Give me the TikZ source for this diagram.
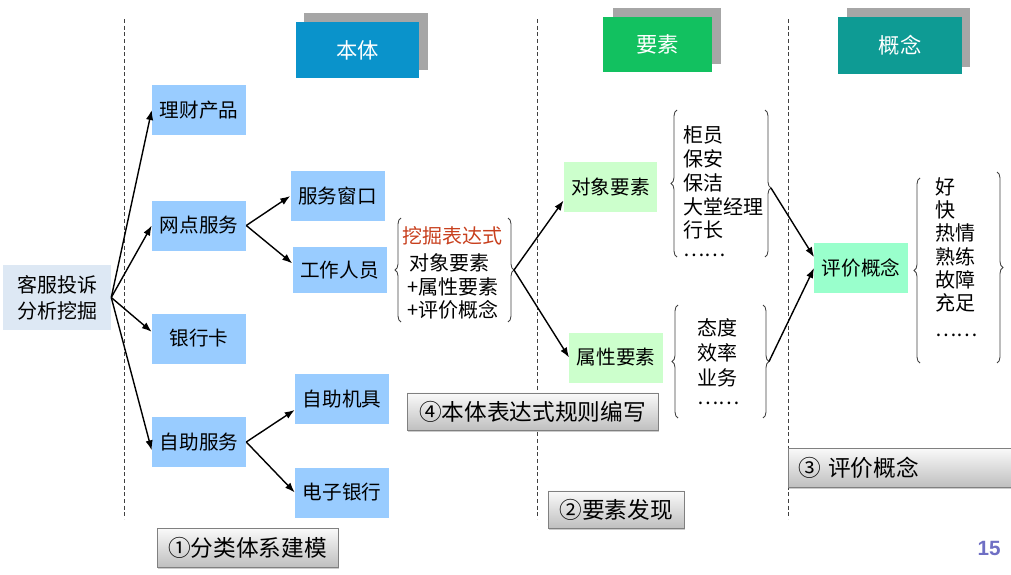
\documentclass[tikz,border=0pt]{standalone}
\usepackage{fontspec}
\setmainfont{Noto Sans CJK SC}
\newfontfamily\numfont{Liberation Sans}
\usetikzlibrary{arrows.meta,decorations.pathreplacing,shadows}

\definecolor{clsblue}{HTML}{99CCFF}
\definecolor{rootblue}{HTML}{DDE8F4}
\definecolor{hdrblue}{HTML}{0A93CB}
\definecolor{hdrgreen}{HTML}{12C160}
\definecolor{hdrteal}{HTML}{0E9B94}
\definecolor{hdrshade}{HTML}{A6A6A6}
\definecolor{objgreen}{HTML}{CCFFCC}
\definecolor{evalmint}{HTML}{99FFCC}
\definecolor{exprred}{HTML}{C8401E}
\definecolor{pagenum}{HTML}{6F6FC4}

\tikzset{
  root/.style={fill=rootblue, minimum width=81pt, minimum height=48.75pt, inner sep=0pt,
    align=center, font=\fontsize{15}{19.5}\selectfont},
  cls/.style={fill=clsblue, minimum width=70.5pt, minimum height=37.5pt, inner sep=0pt,
    font=\fontsize{14.7}{17}\selectfont},
  elem/.style={minimum width=70pt, minimum height=37.5pt, inner sep=0pt,
    font=\fontsize{14.7}{17}\selectfont},
  hdr/.style={text=white, inner sep=0pt, font=\fontsize{16}{18}\selectfont},
  item/.style={anchor=west, inner sep=0pt, font=\fontsize{15}{18}\selectfont},
  note/.style={draw=black!50, top color=black!2, bottom color=black!25, inner sep=0pt,
    minimum height=28pt, font=\fontsize{17}{19}\selectfont,
    drop shadow={shadow xshift=0.6pt, shadow yshift=-1.4pt, opacity=0.4}},
  link/.style={-{Latex[length=7.5pt,width=5.5pt]}, line width=1.05pt},
  brc/.style={decorate, decoration={brace, amplitude=4.5pt}, draw=black!75, line width=0.65pt},
  sep/.style={dash pattern=on 3pt off 2pt, line width=0.6pt, draw=black!75}
}

\begin{document}
\begin{tikzpicture}[x=0.75pt,y=-0.75pt]
\useasboundingbox (0,0) rectangle (1011,575);

\draw[sep] (124,19) -- (124,519);
\draw[sep] (537,19) -- (537,519);
\draw[sep] (788,19) -- (788,519);

\fill[hdrshade] (304,13) rectangle (428,70);
\node[hdr, fill=hdrblue, minimum width=92.25pt, minimum height=42pt] (ontoHead) at (357.5,50) {本体};
\fill[hdrshade] (613,8) rectangle (721,64);
\node[hdr, fill=hdrgreen, minimum width=81.75pt, minimum height=41.25pt] (elemHead) at (657.5,44.5) {要素};
\fill[hdrshade] (847,8) rectangle (970,67);
\node[hdr, fill=hdrteal, minimum width=93pt, minimum height=42.75pt] (conHead) at (900,45.5) {概念};

\node[root] (root) at (57,297.5) {客服投诉\\分析挖掘};
\node[cls] (wealth) at (199,110) {理财产品};
\node[cls] (branch) at (199,225.5) {网点服务};
\node[cls] (card) at (199,338.5) {银行卡};
\node[cls] (selfsvc) at (199,442) {自助服务};
\node[cls] (counter) at (337.5,196) {服务窗口};
\node[cls, minimum height=34.5pt] (staff) at (339.5,270) {工作人员};
\node[cls] (machine) at (342,399) {自助机具};
\node[cls] (ebank) at (342,492.5) {电子银行};

\draw[link] (root.east) -- (wealth.west);
\draw[link] (root.east) -- (branch.west);
\draw[link] (root.east) -- (card.172);
\draw[link] (root.east) -- (selfsvc.190);
\draw[link] (branch.east) -- (counter.west);
\draw[link] (branch.east) -- (staff.172);
\draw[link] (selfsvc.east) -- (machine.193);
\draw[link] (selfsvc.east) -- (ebank.west);

\draw[brc] (401,322) -- (401,218);
\draw[brc] (508,218) -- (508,322);
\coordinate (exprTip) at (514,270);
\node[item, text=exprred] (exprHead) at (402,236) {挖掘表达式};
\node[item] (exprObj) at (409,263) {对象要素};
\node[item] (exprAttr) at (407,287) {+属性要素};
\node[item] (exprEval) at (407,310) {+评价概念};

\node[elem, fill=objgreen] (obj) at (610.5,187) {对象要素};
\node[elem, fill=objgreen] (attr) at (616,357.5) {属性要素};
\draw[link] (exprTip) -- (obj.196);
\draw[link] (exprTip) -- (attr.west);

\draw[brc] (677,257) -- (677,110);
\draw[brc, decoration={aspect=0.53}] (765,110) -- (765,257);
\coordinate (objTip) at (771,188);
\foreach \t/\y [count=\i] in {柜员/135,保安/159,保洁/183,大堂经理/207,行长/230,……/255}
  \node[item] (objItem\i) at (683,\y) {\t};

\draw[brc] (678,418) -- (678,305);
\draw[brc] (763,305) -- (763,418);
\coordinate (attrTip) at (769,361.5);
\foreach \t/\y [count=\i] in {态度/328,效率/353,业务/378,……/403}
  \node[item] (attrItem\i) at (697,\y) {\t};

\node[elem, fill=evalmint] (eval) at (861,268) {评价概念};
\draw[link] (objTip) -- (eval.167);
\draw[link] (attrTip) -- (eval.west);

\draw[brc] (920,363) -- (920,178);
\draw[brc] (997,172) -- (997,363);
\foreach \t/\y [count=\i] in {好/187,快/210,热情/233,熟练/257,故障/280,充足/303,……/335}
  \node[item] (evalItem\i) at (935,\y) {\t};

\node[note, minimum width=135.75pt, minimum height=29.25pt] (stepOne) at (247.5,547.5) {①分类体系建模};
\node[note, minimum width=188.25pt] (stepFour) at (532.5,411.5) {④本体表达式规则编写};
\node[note, minimum width=102pt] (stepTwo) at (616,509.5) {②要素发现};
\node[note, text width=156pt, align=left, inner xsep=7.5pt, minimum height=29.25pt] (stepThree) at (902,467.5) {③ 评价概念};

\node[text=pagenum, font=\numfont\bfseries\fontsize{15.5}{18}\selectfont] (pageNo) at (989,548) {15};
\end{tikzpicture}
\end{document}
